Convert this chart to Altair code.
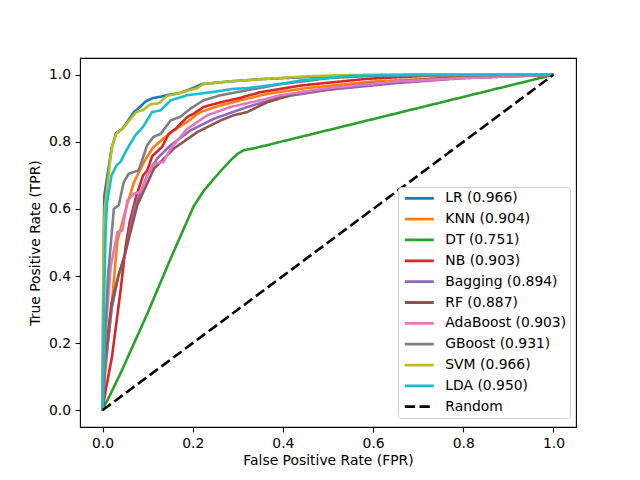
import altair as alt
import pandas as pd

# ---- data ----
labels = ["LR (0.966)", "KNN (0.904)", "DT (0.751)", "NB (0.903)", "Bagging (0.894)",
          "RF (0.887)", "AdaBoost (0.903)", "GBoost (0.931)", "SVM (0.966)", "LDA (0.950)", "Random"]
colors = ["#1f77b4", "#ff7f0e", "#2ca02c", "#d62728", "#9467bd",
          "#8c564b", "#e377c2", "#7f7f7f", "#bcbd22", "#17becf", "black"]

lr_fpr = [0, 0.002, 0.004, 0.02, 0.03, 0.045, 0.06, 0.07, 0.08, 0.095, 0.11, 0.13, 0.145, 0.17, 0.2, 0.22, 0.28, 0.35, 0.45, 0.55, 0.7, 1]
lr_tpr = [0, 0.45, 0.64, 0.78, 0.826, 0.84, 0.87, 0.89, 0.9, 0.92, 0.93, 0.935, 0.94, 0.945, 0.96, 0.972, 0.98, 0.987, 0.993, 0.998, 1.0, 1]

knn_fpr = [0, 0.005, 0.018, 0.033, 0.055, 0.069, 0.092, 0.11, 0.135, 0.158, 0.188, 0.217, 0.262, 0.306, 0.365, 0.45, 0.6, 0.8, 1]
knn_tpr = [0, 0.1, 0.28, 0.506, 0.616, 0.677, 0.74, 0.78, 0.81, 0.834, 0.86, 0.889, 0.909, 0.924, 0.943, 0.96, 0.98, 0.993, 1]

dt_fpr = [0, 0.04, 0.1, 0.151, 0.202, 0.225, 0.247, 0.27, 0.284, 0.3, 0.313, 0.34, 1]
dt_tpr = [0, 0.11, 0.29, 0.452, 0.608, 0.655, 0.69, 0.725, 0.745, 0.765, 0.775, 0.782, 1]

nb_fpr = [0, 0.007, 0.021, 0.04, 0.051, 0.06, 0.075, 0.09, 0.099, 0.11, 0.132, 0.147, 0.162, 0.188, 0.202, 0.224, 0.262, 0.299, 0.35, 0.44, 0.587, 0.734, 1]
nb_tpr = [0, 0.06, 0.16, 0.357, 0.486, 0.56, 0.64, 0.70, 0.714, 0.757, 0.785, 0.824, 0.839, 0.874, 0.884, 0.904, 0.918, 0.929, 0.948, 0.968, 0.988, 0.998, 1]

bag_fpr = [0, 0.005, 0.02, 0.035, 0.051, 0.07, 0.099, 0.121, 0.151, 0.195, 0.247, 0.321, 0.395, 0.5, 0.65, 0.8, 1]
bag_tpr = [0, 0.12, 0.3, 0.4, 0.47, 0.6, 0.7, 0.75, 0.79, 0.834, 0.869, 0.904, 0.933, 0.955, 0.975, 0.99, 1]

rf_fpr = [0, 0.005, 0.02, 0.035, 0.047, 0.077, 0.114, 0.158, 0.21, 0.262, 0.29, 0.321, 0.365, 0.439, 0.587, 0.734, 1]
rf_tpr = [0, 0.15, 0.32, 0.4, 0.452, 0.611, 0.72, 0.78, 0.829, 0.864, 0.879, 0.889, 0.918, 0.948, 0.973, 0.988, 1]

ada_fpr = [0, 0.005, 0.018, 0.033, 0.044, 0.055, 0.069, 0.084, 0.106, 0.113, 0.135, 0.151, 0.188, 0.232, 0.284, 0.35, 0.395, 0.5, 0.65, 0.8, 1]
ada_tpr = [0, 0.2, 0.427, 0.531, 0.536, 0.625, 0.645, 0.651, 0.72, 0.735, 0.74, 0.78, 0.839, 0.879, 0.904, 0.924, 0.939, 0.96, 0.98, 0.99, 1]

gb_fpr = [0, 0.005, 0.012, 0.02, 0.025, 0.036, 0.047, 0.058, 0.08, 0.099, 0.113, 0.129, 0.151, 0.173, 0.195, 0.224, 0.262, 0.321, 0.395, 0.5, 0.6, 1]
gb_tpr = [0, 0.2, 0.4, 0.52, 0.6, 0.611, 0.68, 0.705, 0.715, 0.79, 0.815, 0.824, 0.864, 0.875, 0.899, 0.924, 0.939, 0.954, 0.972, 0.99, 0.997, 1]

svm_fpr = [0, 0.002, 0.005, 0.02, 0.03, 0.045, 0.06, 0.075, 0.09, 0.106, 0.125, 0.143, 0.17, 0.19, 0.21, 0.224, 0.28, 0.365, 0.45, 0.51, 0.6, 1]
svm_tpr = [0, 0.5, 0.6, 0.78, 0.824, 0.84, 0.865, 0.889, 0.895, 0.912, 0.915, 0.937, 0.945, 0.953, 0.96, 0.973, 0.98, 0.988, 0.995, 0.998, 1.0, 1]

lda_fpr = [0, 0.003, 0.007, 0.01, 0.02, 0.031, 0.04, 0.055, 0.073, 0.09, 0.11, 0.129, 0.151, 0.188, 0.247, 0.29, 0.321, 0.395, 0.44, 0.55, 0.7, 1]
lda_tpr = [0, 0.3, 0.546, 0.62, 0.7, 0.73, 0.741, 0.78, 0.82, 0.845, 0.889, 0.894, 0.924, 0.939, 0.949, 0.958, 0.96, 0.973, 0.983, 0.997, 1.0, 1]

rand_fpr = [0, 1]
rand_tpr = [0, 1]

x_ticks = [0.0, 0.2, 0.4, 0.6, 0.8, 1.0]
y_ticks = [0.0, 0.2, 0.4, 0.6, 0.8, 1.0]

series = [(lr_fpr, lr_tpr), (knn_fpr, knn_tpr), (dt_fpr, dt_tpr), (nb_fpr, nb_tpr),
          (bag_fpr, bag_tpr), (rf_fpr, rf_tpr), (ada_fpr, ada_tpr), (gb_fpr, gb_tpr),
          (svm_fpr, svm_tpr), (lda_fpr, lda_tpr), (rand_fpr, rand_tpr)]

rows = []
for k, (lab, (xs, ys)) in enumerate(zip(labels, series)):
    for i, (xv, yv) in enumerate(zip(xs, ys)):
        rows.append({"model": lab, "fpr": xv, "tpr": yv, "k": k, "i": i})
df = pd.DataFrame(rows)

dashes = [[1, 0]] * 10 + [[10.3, 4.4]]

legend = alt.Legend(
    title=None, orient="none", legendX=318, legendY=129,
    strokeColor="#cccccc", fillColor="white", cornerRadius=3, padding=3.3,
    labelFont="DejaVu Sans", labelFontSize=13.9, labelColor="black",
    symbolType="stroke", symbolSize=841, symbolStrokeWidth=2.78,
    symbolOffset=2, clipHeight=16,
    labelOffset=10, rowPadding=4.84, labelLimit=300,
)

chart = alt.Chart(df).mark_line(strokeWidth=2.6).encode(
    x=alt.X("fpr:Q", scale=alt.Scale(domain=[-0.05, 1.05], nice=False, zero=False),
            axis=alt.Axis(values=x_ticks, format=".1f", title="False Positive Rate (FPR)")),
    y=alt.Y("tpr:Q", scale=alt.Scale(domain=[-0.05, 1.05], nice=False, zero=False),
            axis=alt.Axis(values=y_ticks, format=".1f", title="True Positive Rate (TPR)")),
    color=alt.Color("model:N", scale=alt.Scale(domain=labels, range=colors), sort=labels, legend=legend),
    strokeDash=alt.StrokeDash("model:N", scale=alt.Scale(domain=labels, range=dashes), sort=labels, legend=legend),
    order=alt.Order("i:Q"),
).properties(
    width=496, height=369,
    autosize=alt.AutoSizeParams(type="none"),
    padding={"left": 72, "top": 50, "right": 56, "bottom": 45},
).configure_view(
    stroke="black", strokeWidth=1.1
).configure_axis(
    domain=False, grid=False, tickColor="black", tickSize=4.9, tickWidth=1.1,
    labelColor="black", labelFont="DejaVu Sans", labelFontSize=13.9, labelPadding=4.5,
    titleFont="DejaVu Sans", titleFontSize=13.9, titleFontWeight="normal", titleColor="black",
).configure_axisX(titlePadding=3).configure_axisY(titlePadding=6)

chart.save("out.html", embed_options={"renderer": "svg", "actions": False})
